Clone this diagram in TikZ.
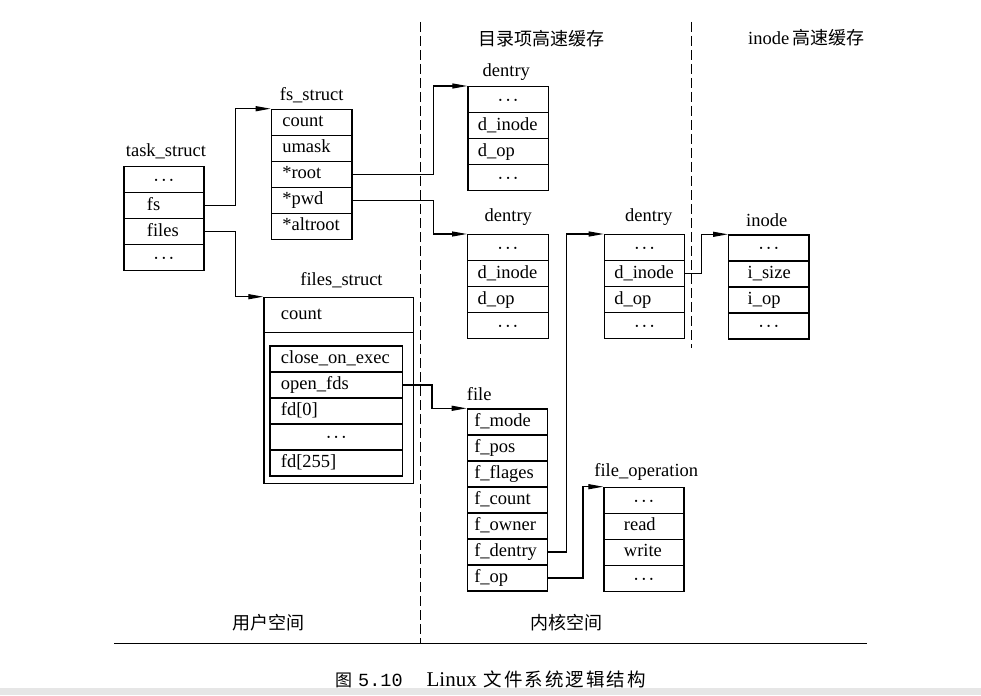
\documentclass[tikz,border=0pt]{standalone}
\usepackage{fontspec}
\setmainfont{Liberation Serif}
\setmonofont{Liberation Mono}
\newfontfamily\cjk{Noto Sans CJK SC}
\usetikzlibrary{arrows.meta}
\definecolor{bandgray}{HTML}{E6E6E6}
\newcommand\celldots{\raisebox{-2.5pt}{·\hspace{1.5pt}·\hspace{1.5pt}·}}
\tikzset{
  lbl/.style={font=\fontsize{18.5}{20}\selectfont, inner sep=0pt},
  cellbase/.style={draw, line width=1.2pt, anchor=north west, minimum height=26pt, inner ysep=0pt, text height=12.5pt, text depth=3.5pt, font=\fontsize{18.5}{20}\selectfont},
  tscell/.style={cellbase, text width=34pt, inner xsep=23pt, align=left},
  fscell/.style={cellbase, text width=58.6pt, inner xsep=11pt, align=left},
  dcell/.style={cellbase, text width=60.5pt, inner xsep=10pt, align=left},
  icell/.style={cellbase, text width=42.3pt, inner xsep=19pt, align=left},
  focell/.style={cellbase, text width=40pt, inner xsep=20pt, align=left},
  ficell/.style={cellbase, text width=66pt, inner xsep=7pt, align=left},
  fdcell/.style={cellbase, text width=110.7pt, inner xsep=11pt, align=left},
  dotrow/.style={align=center},
  conn/.style={line width=1.2pt, -{Triangle[length=15pt,width=5pt]}},
  cjklbl/.style={font=\cjk\fontsize{18}{20}\selectfont, inner sep=0pt},
  divider/.style={line width=1.2pt, dash pattern=on 10pt off 4pt},
}
\begin{document}
\begin{tikzpicture}[x=1pt,y=-1pt]
\useasboundingbox (0,0) rectangle (981,695);
\fill[bandgray] (0,687.5) rectangle (981,695);

% dividers and rule
\coordinate (v1t) at (420.5,22);
\coordinate (v1b) at (420.5,643);
\coordinate (v2t) at (691.7,22);
\coordinate (v2b) at (691.7,348);
\coordinate (hl1) at (114,643.5);
\coordinate (hl2) at (866.7,643.5);
\draw[divider] (v1t) -- (v1b);
\draw[divider] (v2t) -- (v2b);
\draw[line width=1.3pt] (hl1) -- (hl2);

% headings
\node[cjklbl] (h1) at (541.2,38.3) {目录项高速缓存};
\node[lbl, anchor=base west] (h2) at (748,44.5) {inode\hspace{3pt}{\cjk\fontsize{18}{20}\selectfont 高速缓存}};
\node[cjklbl] (h3) at (268.5,622.7) {用户空间};
\node[cjklbl] (h4) at (566.3,622.7) {内核空间};

% task_struct
\node[lbl, anchor=base] (tslbl) at (166,157) {task\_struct};
\node[tscell, dotrow] (ts1) at (123.3,166) {\celldots};
\node[tscell] (ts2) at (123.3,192) {fs};
\node[tscell] (ts3) at (123.3,218) {files};
\node[tscell, dotrow] (ts4) at (123.3,244) {\celldots};

% fs_struct
\node[lbl, anchor=base] (fslbl) at (311.7,101) {fs\_struct};
\node[fscell] (fs1) at (270.7,108.7) {count};
\node[fscell] (fs2) at (270.7,134.7) {umask};
\node[fscell] (fs3) at (270.7,160.7) {*root};
\node[fscell] (fs4) at (270.7,186.7) {*pwd};
\node[fscell] (fs5) at (270.7,212.7) {*altroot};

% files_struct
\node[lbl, anchor=base] (fileslbl) at (341.5,285) {files\_struct};
\node[draw, line width=1.2pt, anchor=north west, minimum width=149.4pt, minimum height=186pt, inner sep=0pt] (fbox) at (263.3,296.7) {};
\node[cellbase, text width=115.4pt, inner xsep=17pt, align=left, minimum height=35.3pt] (fsc) at (263.3,296.7) {count};
\node[fdcell] (fd1) at (269.3,345.3) {close\_on\_exec};
\node[fdcell] (fd2) at (269.3,371.3) {open\_fds};
\node[fdcell] (fd3) at (269.3,397.3) {fd[0]};
\node[fdcell, dotrow] (fd4) at (269.3,423.3) {\celldots};
\node[fdcell] (fd5) at (269.3,449.3) {fd[255]};

% dentry 1
\node[lbl, anchor=base] (d1lbl) at (506.3,77) {dentry};
\node[dcell, dotrow] (d1a) at (467.3,86) {\celldots};
\node[dcell] (d1b) at (467.3,112) {d\_inode};
\node[dcell] (d1c) at (467.3,138) {d\_op};
\node[dcell, dotrow] (d1d) at (467.3,164) {\celldots};

% dentry 2
\node[lbl, anchor=base] (d2lbl) at (508.3,221) {dentry};
\node[dcell, dotrow] (d2a) at (467,234) {\celldots};
\node[dcell] (d2b) at (467,260) {d\_inode};
\node[dcell] (d2c) at (467,286) {d\_op};
\node[dcell, dotrow] (d2d) at (467,312) {\celldots};

% dentry 3
\node[lbl, anchor=base] (d3lbl) at (648.8,221) {dentry};
\node[dcell, dotrow] (d3a) at (603.7,234) {\celldots};
\node[dcell] (d3b) at (603.7,260) {d\_inode};
\node[dcell] (d3c) at (603.7,286) {d\_op};
\node[dcell, dotrow] (d3d) at (603.7,312) {\celldots};

% inode
\node[lbl, anchor=base] (inlbl) at (766.7,226) {inode};
\node[icell, dotrow] (in1) at (728,234.3) {\celldots};
\node[icell] (in2) at (728,260.3) {i\_size};
\node[icell] (in3) at (728,286.3) {i\_op};
\node[icell, dotrow] (in4) at (728,312.3) {\celldots};

% file
\node[lbl, anchor=base west] (filelbl) at (466.7,400) {file};
\node[ficell] (f1) at (466.7,408.3) {f\_mode};
\node[ficell] (f2) at (466.7,434.3) {f\_pos};
\node[ficell] (f3) at (466.7,460.3) {f\_flages};
\node[ficell] (f4) at (466.7,486.3) {f\_count};
\node[ficell] (f5) at (466.7,512.3) {f\_owner};
\node[ficell] (f6) at (466.7,538.3) {f\_dentry};
\node[ficell] (f7) at (466.7,564.3) {f\_op};

% file_operation
\node[lbl, anchor=base] (folbl) at (646.3,476) {file\_operation};
\node[focell, dotrow] (fo1) at (603.3,486.7) {\celldots};
\node[focell] (fo2) at (603.3,512.7) {read};
\node[focell] (fo3) at (603.3,538.7) {write};
\node[focell, dotrow] (fo4) at (603.3,564.7) {\celldots};

% connectors
\draw[conn] (ts2.east) -- ++(30.7,0) |- (fs1.north west);
\draw[conn] (ts3.east) -- ++(30.7,0) |- (fsc.north west);
\draw[conn] (fs3.east) -- ++(80.7,0) |- (d1a.north west);
\draw[conn] (fs4.east) -- ++(80.7,0) |- (d2a.north west);
\draw[conn] (fd2.east) -- ++(28.7,0) |- (f1.north west);
\draw[conn] (f6.east) -- ++(18.6,0) |- (d3a.north west);
\draw[conn] (f7.east) -- ++(35,0) |- (fo1.north west);
\draw[conn] (d3b.east) -- ++(15.7,0) |- (in1.north west);

% caption
\node[anchor=west, inner sep=0pt] (cap) at (335,679) {{\cjk\fontsize{17}{18}\selectfont 图}\hspace{6pt}{\ttfamily\fontsize{18.5}{20}\selectfont 5.10}\hspace{24pt}{\fontsize{21}{22}\selectfont Linux}\hspace{7pt}{\cjk\fontsize{18.5}{20}\selectfont 文\hspace{2pt}件\hspace{2pt}系\hspace{2pt}统\hspace{2pt}逻\hspace{2pt}辑\hspace{2pt}结\hspace{2pt}构}};
\end{tikzpicture}
\end{document}
